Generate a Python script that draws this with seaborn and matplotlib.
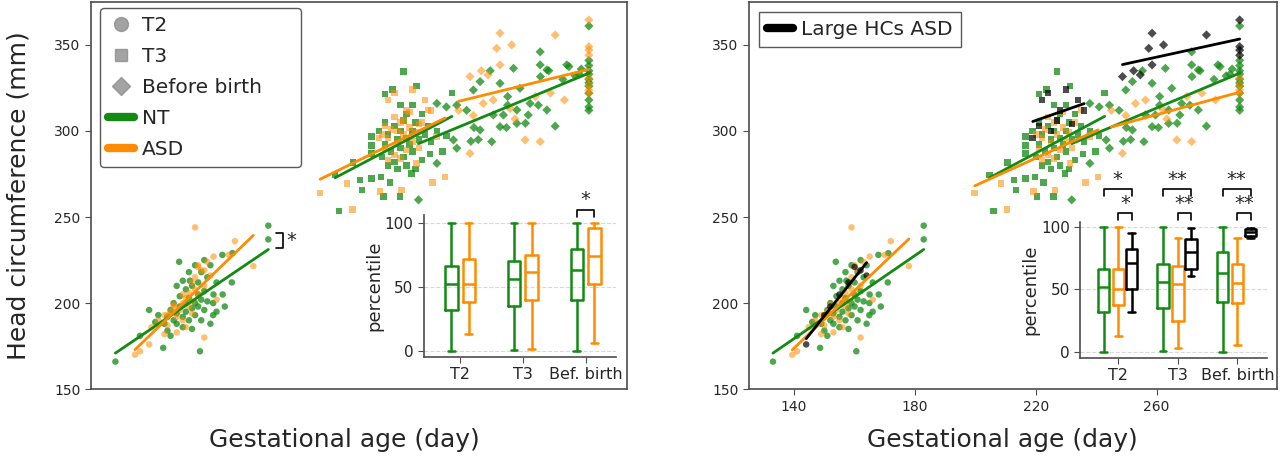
import numpy as np
import pandas as pd
import matplotlib
matplotlib.use("Agg")
import matplotlib.pyplot as plt
import seaborn as sns
from matplotlib.lines import Line2D

# ---- scatter data (gestational age in days, head circumference in mm) ----
nt_t2_day = [133, 141, 144, 148.6, 153.8, 151, 160.6, 168.7, 164.9, 171, 167.9, 171.2, 182.9, 182.9,
             164.9, 157.3, 150, 151, 152, 152, 153, 153, 154, 154, 155, 155, 156, 156, 156, 157, 157,
             158, 158, 158, 159, 159, 160, 160, 160, 161, 161, 162, 162, 163, 163, 164, 165, 166, 149,
             150, 155, 157, 159, 161, 162, 153, 166, 164, 168, 147, 146]
nt_t2_hc = [166, 181, 196, 174, 224, 181, 172, 198, 193, 212, 228, 229, 245, 237,
            200, 213, 192, 196, 190, 200, 194, 188, 198, 204, 192, 186, 200, 208, 195, 190, 203,
            197, 210, 185, 200, 193, 205, 212, 198, 190, 202, 207, 196, 215, 201, 188, 205, 212, 188,
            184, 213, 218, 222, 218, 225, 210, 195, 222, 205, 193, 189]

nt_t3_day = [227, 221, 223.5, 242.8, 216.6, 216.6, 216.6, 210.6, 204.7, 212.8, 213.4, 216.6, 219.7,
             222.6, 220.4, 225.9, 206, 235.7, 239.8, 229.7, 220, 221, 222, 223, 224, 224, 225, 226,
             226, 227, 227, 228, 228, 229, 230, 230, 231, 232, 233, 233, 234, 235, 222, 225, 228, 231,
             219, 221, 230, 226, 236, 231.3, 238, 241]
nt_t3_hc = [334.5, 321.5, 324, 322, 296.7, 291.5, 287, 281.6, 274.4, 271.5, 265.7, 272.4, 273.4,
            270, 261.8, 261.8, 253.5, 286.6, 288, 275.4, 285, 292, 298, 288, 303, 282, 295, 290,
            300, 306, 285, 296, 310, 292, 300, 288, 305, 295, 310, 283, 298, 303, 280, 278, 280, 278,
            300, 305, 315, 315, 294, 326, 300, 297]

nt_bb_day = [231.9, 237.9, 241, 244.4, 247.6, 243.3, 244.4, 237.9, 252, 251.4, 255.8, 258.5, 259.6,
             256.3, 249.8, 252, 255.3, 258.5, 262.9, 271.6, 271.6, 273.8, 280.3, 265, 261, 261, 264,
             268.3, 271, 273.8, 267.7, 264, 260.6, 266.8, 276.5, 250, 249, 271.7, 274.4, 281, 284.3,
             283, 279, 285, 287.5, 287.5, 287.5, 287.5, 287.5, 287.5, 287.5, 287.5, 287.5, 287.5,
             287.5, 287.5]
nt_bb_hc = [260, 316, 314, 315, 312, 294.8, 290, 281.2, 300.6, 295, 293.8, 302.5, 309.3,
            309.3, 323.8, 328.7, 335, 327.7, 336.4, 346, 338.4, 335.5, 338.4, 324.8, 320, 315, 312.2,
            316, 315, 312.2, 309.3, 304.4, 302, 304.5, 302.8, 302, 294, 331.6, 335, 337.4, 333,
            332, 330, 336, 361, 338, 335, 333, 330, 326, 322, 318, 314, 312, 341, 328]

asd_t2_day = [139.4, 141, 144.8, 147, 149, 150, 151, 152, 153, 154, 155, 155, 156, 157, 157, 158,
              158, 159, 159, 160, 160, 161, 162, 163, 165, 166, 170, 172, 178, 159, 153, 156, 162,
              149, 144, 150, 152, 155, 158, 160, 162, 164]
asd_t2_hc = [170, 172, 186, 190, 193, 187, 195, 199, 192, 196, 200, 190, 203, 198, 206, 201,
             194, 208, 215, 205, 222, 219, 210, 224, 227, 202, 228, 236, 221.5, 244, 183, 186, 180,
             182, 176, 193, 198, 205, 212, 221, 219, 216]
asd_t2_large = [0] * 34 + [1] * 8

asd_t3_day = [199.8, 210.4, 208.5, 219.3, 226.4, 231.3, 237.8, 235, 240.6, 236.5, 221, 222, 223,
              224, 225, 226, 227, 228, 229, 230, 224, 226, 229, 231, 232, 222, 220, 233,
              219, 221, 222, 224, 225, 227, 228, 230, 232, 234, 236]
asd_t3_hc = [264, 254.5, 269.6, 264.7, 265.7, 281.2, 296.7, 312.2, 273.4, 270, 290, 296, 301,
             286, 293, 305, 298, 289, 302, 294, 308, 284, 311, 299, 290, 283, 298, 305,
             296, 303, 318, 322, 300, 306, 312, 324, 304, 318, 312]
asd_t3_large = [0] * 28 + [1] * 11

asd_bb_day = [258.5, 257.4, 262.3, 276.5, 258.5, 248.7, 252.4, 254.6, 287.5, 287.5, 287.5, 287.5,
              248.7, 266.7, 271.6, 261.8, 263.4, 249.8, 256.3, 287.5, 287.5, 287.5, 287.5,
              279.5, 245, 253, 270, 275]
asd_bb_hc = [356.8, 348, 350, 355.8, 338.4, 331.6, 335, 332.6, 364.5, 349, 347, 344,
             287, 294.8, 293.8, 313, 307, 309, 318, 330.6, 326.7, 323.8, 322,
             318, 312, 316, 320, 322]
asd_bb_large = [1] * 12 + [0] * 16

# ---- inset box summaries (percentile) ----
periods_box = ["T2", "T3", "Bef. birth"]
nt_lo = [0, 1, 0]
nt_q1 = [32, 35, 40]
nt_med = [52, 56, 63]
nt_q3 = [66, 70, 80]
nt_hi = [100, 100, 100]

asd_lo = [13, 2, 6]
asd_q1 = [38, 40, 52]
asd_med = [52, 62, 74]
asd_q3 = [72, 75, 96]
asd_hi = [100, 100, 100]

asdr_lo = [13, 3, 6]
asdr_q1 = [38, 25, 39]
asdr_med = [50, 54, 55]
asdr_q3 = [66, 69, 70]
asdr_hi = [100, 91, 91]

large_lo = [32, 61, 91]
large_q1 = [50, 66, 93]
large_med = [71, 80, 96]
large_q3 = [82, 90, 98]
large_hi = [95, 99, 99]

GREEN = "#138a13"
ORANGE = "darkorange"
BLACK = "black"


def make_df(day, hc, period, group, large=None):
    d = pd.DataFrame({"day": day, "hc": hc})
    d["period"] = period
    d["group"] = group
    d["large"] = 0 if large is None else large
    return d


df = pd.concat([
    make_df(nt_t2_day, nt_t2_hc, "T2", "NT"),
    make_df(nt_t3_day, nt_t3_hc, "T3", "NT"),
    make_df(nt_bb_day, nt_bb_hc, "Before birth", "NT"),
    make_df(asd_t2_day, asd_t2_hc, "T2", "ASD", asd_t2_large),
    make_df(asd_t3_day, asd_t3_hc, "T3", "ASD", asd_t3_large),
    make_df(asd_bb_day, asd_bb_hc, "Before birth", "ASD", asd_bb_large),
], ignore_index=True)
df["group_r"] = np.where(df["large"] == 1, "Large", df["group"])

markers = {"T2": "o", "T3": "s", "Before birth": "D"}

sns.set_style("ticks")
plt.rcParams["font.family"] = ["DejaVu Sans"]

fig = plt.figure(figsize=(12.8, 4.74), dpi=100)
ax_l = fig.add_axes([0.071, 0.179, 0.419, 0.817])
ax_r = fig.add_axes([0.585, 0.179, 0.413, 0.817])


def draw_main(ax, hue_col, palette, alphas):
    for g, col in palette.items():
        sub = df[df[hue_col] == g]
        sns.scatterplot(data=sub, x="day", y="hc", style="period", markers=markers,
                        color=col, alpha=alphas[g], s=22, linewidth=0, legend=False, ax=ax)
    for g, col in palette.items():
        for p in markers:
            sub = df[(df[hue_col] == g) & (df["period"] == p)]
            sns.regplot(data=sub, x="day", y="hc", scatter=False, ci=None, color=col,
                        line_kws={"lw": 2}, ax=ax, truncate=True)
    ax.set_xlim(125, 300)
    ax.set_ylim(150, 375)
    ax.set_yticks([150, 200, 250, 300, 350])
    ax.tick_params(axis="both", labelsize=10, length=4, color="0.3")
    for sp in ax.spines.values():
        sp.set_visible(True)
        sp.set_color("0.3")
        sp.set_linewidth(1.2)
    ax.set_ylabel("")


draw_main(ax_l, "group", {"NT": GREEN, "ASD": ORANGE}, {"NT": 0.75, "ASD": 0.55})
draw_main(ax_r, "group_r", {"NT": GREEN, "ASD": ORANGE, "Large": BLACK},
          {"NT": 0.75, "ASD": 0.55, "Large": 0.7})

ax_l.set_xticks([])
ax_r.set_xticks([140, 180, 220, 260])
ax_l.set_xlabel("Gestational age (day)", fontsize=18)
ax_r.set_xlabel("Gestational age (day)", fontsize=18)
ax_l.xaxis.set_label_coords(0.473, -0.10)
ax_r.xaxis.set_label_coords(0.479, -0.10)
ax_l.set_ylabel("Head circumference (mm)", fontsize=18)
ax_l.yaxis.set_label_coords(-0.112, 0.5)

# bracket next to T2 line ends
ax_l.plot([185.3, 187.6, 187.6, 185.3], [240.9, 240.9, 231.8, 231.8], color="k", lw=1.2)
ax_l.text(188.8, 236.5, "*", fontsize=14, va="center", ha="left")

# legends
gray = "0.55"
h_left = [
    Line2D([], [], ls="", marker="o", color=gray, markersize=10, alpha=0.8),
    Line2D([], [], ls="", marker="s", color=gray, markersize=9, alpha=0.8),
    Line2D([], [], ls="", marker="D", color=gray, markersize=9, alpha=0.8),
    Line2D([], [], color=GREEN, lw=6),
    Line2D([], [], color=ORANGE, lw=6),
]
leg = ax_l.legend(h_left, ["T2", "T3", "Before birth", "NT", "ASD"], loc="upper left",
                  bbox_to_anchor=(0.0168, 0.5, 0.375, 0.4845), mode="expand",
                  fontsize=14.5, handlelength=1.3, handletextpad=0.4, labelspacing=0.6,
                  borderaxespad=0.0, frameon=True, fancybox=True, framealpha=1)
leg.get_frame().set_edgecolor("0.35")
leg.get_frame().set_linewidth(1.0)

leg_r = ax_r.legend([Line2D([], [], color=BLACK, lw=6)], ["Large HCs ASD"], loc="upper left",
                    fontsize=14.5, handlelength=1.3, handletextpad=0.4, borderaxespad=0.5,
                    frameon=True, fancybox=False, framealpha=1)
leg_r.get_frame().set_edgecolor("0.35")
leg_r.get_frame().set_linewidth(1.0)


# ---- insets ----
def box_stats(lo, q1, med, q3, hi):
    return [dict(whislo=a, q1=b, med=c, q3=d, whishi=e, fliers=[])
            for a, b, c, d, e in zip(lo, q1, med, q3, hi)]


def draw_boxes(ax, stats, offset, col, width):
    pos = np.arange(len(stats)) + offset
    props = dict(color=col, lw=1.8)
    ax.bxp(stats, positions=pos, widths=width, showfliers=False, patch_artist=False,
           boxprops=props, whiskerprops=props, capprops=props, medianprops=props,
           capwidths=width * 0.55, manage_ticks=False)


def style_inset(ax, xlim, ylim):
    ax.set_xlim(*xlim)
    ax.set_ylim(*ylim)
    ax.set_xticks([0, 1, 2])
    ax.set_xticklabels(periods_box, fontsize=11.5)
    ax.set_yticks([0, 50, 100])
    ax.tick_params(axis="y", labelsize=11)
    ax.tick_params(length=4, color="0.3")
    ax.yaxis.grid(True, color="0.85", lw=0.8, ls="--")
    ax.set_axisbelow(True)
    sns.despine(ax=ax)
    for sp in ("left", "bottom"):
        ax.spines[sp].set_color("0.3")
        ax.spines[sp].set_linewidth(1.2)
    ax.set_ylabel("percentile", fontsize=13, labelpad=1)


def bracket(ax, x1, x2, y0, y1, txt):
    ax.plot([x1, x1, x2, x2], [y0, y1, y1, y0], color="k", lw=1.2, clip_on=False)
    ax.text((x1 + x2) / 2, y1 + 0.5, txt, ha="center", va="bottom", fontsize=14)


in_l = fig.add_axes([0.331, 0.247, 0.150, 0.299])
draw_boxes(in_l, box_stats(nt_lo, nt_q1, nt_med, nt_q3, nt_hi), -0.14, GREEN, 0.2)
draw_boxes(in_l, box_stats(asd_lo, asd_q1, asd_med, asd_q3, asd_hi), 0.14, ORANGE, 0.2)
style_inset(in_l, (-0.58, 2.48), (-4.5, 106))
bracket(in_l, 2 - 0.14, 2 + 0.14, 104.7, 110, "*")

in_r = fig.add_axes([0.844, 0.245, 0.146, 0.287])
draw_boxes(in_r, box_stats(nt_lo, nt_q1, nt_med, nt_q3, nt_hi), -0.25, GREEN, 0.19)
draw_boxes(in_r, box_stats(asdr_lo, asdr_q1, asdr_med, asdr_q3, asdr_hi), 0.0, ORANGE, 0.19)
draw_boxes(in_r, box_stats(large_lo, large_q1, large_med, large_q3, large_hi), 0.22, BLACK, 0.19)
style_inset(in_r, (-0.64, 2.5), (-4.6, 104))
for i, txt in enumerate(["*", "**", "**"]):
    bracket(in_r, i - 0.25, i + 0.22, 124.7, 130, txt)
    bracket(in_r, i + 0.0, i + 0.22, 105.5, 110.7, txt)

fig.savefig("out.png", dpi=100)
